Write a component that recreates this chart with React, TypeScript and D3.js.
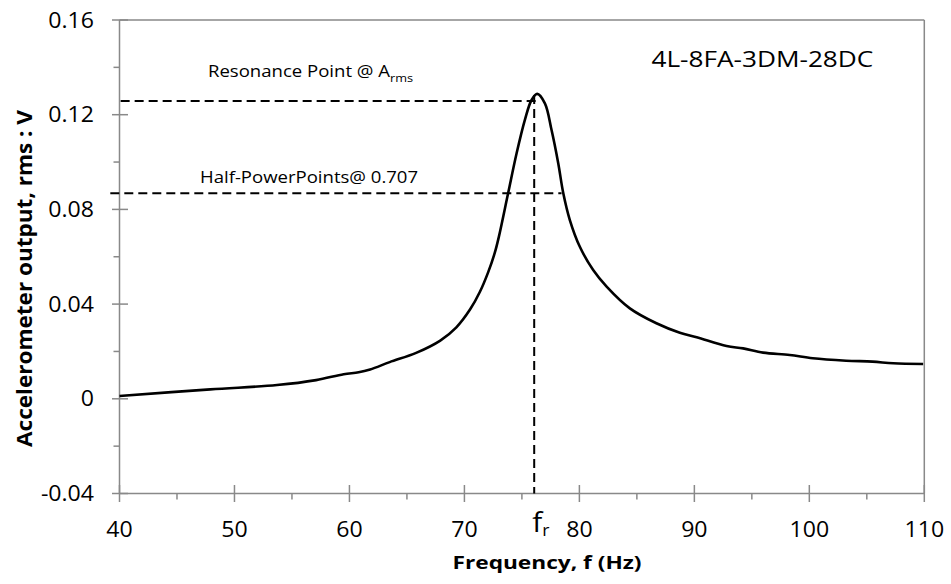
import React from "react";
import * as d3 from "d3";

// ---- data ----
const freq = [40, 47.9, 53.7, 57.1, 59.5, 60.8, 61.8, 63.5, 65.8, 67.9, 69.3, 70.5, 71.35, 72.07, 72.65, 73.0, 73.8, 74.54, 75.26, 75.84, 76.33, 77.0, 77.58, 78.16, 78.6, 79.17, 80.04, 81.2, 82.37, 84.39, 86.7, 88.74, 90.2, 92.8, 94.24, 95.98, 98.3, 100.3, 103.2, 105.5, 107.3, 109.9];
const amp = [0.0012, 0.004, 0.0058, 0.0079, 0.0104, 0.0112, 0.0124, 0.0155, 0.0194, 0.0246, 0.0302, 0.0378, 0.0452, 0.0535, 0.0618, 0.0685, 0.0868, 0.1037, 0.1178, 0.1262, 0.1288, 0.1248, 0.1135, 0.0995, 0.0868, 0.0755, 0.0642, 0.0544, 0.0474, 0.0382, 0.0319, 0.0279, 0.026, 0.0223, 0.0213, 0.0195, 0.0185, 0.0171, 0.0161, 0.0157, 0.015, 0.0147];

const xMajorTicks = [40, 50, 60, 70, 80, 90, 100, 110];
const xMinorTicks = [45, 55, 65, 75, 85, 95, 105];
const yMajorTicks = [-0.04, 0, 0.04, 0.08, 0.12, 0.16];
const yMinorTicks = [-0.02, 0.02, 0.06, 0.1, 0.14];
const yTickLabels = ["-0.04", "0", "0.04", "0.08", "0.12", "0.16"];

const resonanceFreq = 76.07;
const resonanceAmp = 0.1258;
const halfPowerAmp = 0.0868;
const halfPowerLineEnd = 78.45;
const resonanceLineStart = 40.1;
const halfPowerLineStart = 39.2;

const seriesLabel = "4L-8FA-3DM-28DC";
const xTitle = "Frequency, f  (Hz)";
const yTitle = "Accelerometer output, rms : V";

const FONT = "'Open Sans', sans-serif";
const AXIS = "#898989";
const SX = 1.1;

function T(props: any) {
  const { x, y, anchor = "start", size, weight = "normal", sx = SX, children } = props;
  return (
    <text
      transform={`translate(${x},${y}) scale(${sx},1)`}
      textAnchor={anchor}
      fontSize={size}
      fontWeight={weight}
      fontFamily={FONT}
      fill="#000"
    >
      {children}
    </text>
  );
}

export default function App() {
  const x = d3.scaleLinear().domain([40, 110]).range([119.5, 924.3]);
  const y = d3.scaleLinear().domain([-0.04, 0.16]).range([493.5, 20]);
  const pts = freq.map((f, i) => [f, amp[i]] as [number, number]);
  const line = d3
    .line<[number, number]>()
    .x((d) => x(d[0]))
    .y((d) => y(d[1]))
    .curve(d3.curveCatmullRom.alpha(0.5));

  const x0 = x(40);
  const x1 = x(110);
  const y0 = y(-0.04);
  const y1 = y(0.16);

  return (
    <svg
      width={951}
      height={584}
      style={{ position: "absolute", left: 0, top: 0, background: "#fff" }}
    >
      <rect x={0} y={0} width={951} height={584} fill="#fff" />
      {/* plot frame */}
      <line x1={x0} y1={y1} x2={x1} y2={y1} stroke={AXIS} strokeWidth={1.5} />
      <line x1={x1} y1={y1} x2={x1} y2={y0} stroke={AXIS} strokeWidth={1.5} />
      <line x1={x0} y1={y1} x2={x0} y2={y0} stroke={AXIS} strokeWidth={1.5} />
      <line x1={x0} y1={y0} x2={x1} y2={y0} stroke={AXIS} strokeWidth={1.5} />

      {/* y ticks */}
      {yMajorTicks.map((v) => (
        <line key={"ym" + v} x1={x0 - 7.5} x2={x0 + 8.5} y1={y(v)} y2={y(v)} stroke={AXIS} strokeWidth={1.5} />
      ))}
      {yMinorTicks.map((v) => (
        <line key={"yn" + v} x1={x0 - 6} x2={x0} y1={y(v)} y2={y(v)} stroke={AXIS} strokeWidth={1.5} />
      ))}
      {/* x ticks */}
      {xMajorTicks.map((v) => (
        <line key={"xm" + v} x1={x(v)} x2={x(v)} y1={y0 - 8.5} y2={y0 + 8.5} stroke={AXIS} strokeWidth={1.5} />
      ))}
      {xMinorTicks.map((v) => (
        <line key={"xn" + v} x1={x(v)} x2={x(v)} y1={y0} y2={y0 + 6} stroke={AXIS} strokeWidth={1.5} />
      ))}

      {/* tick labels */}
      {yMajorTicks.map((v, i) => (
        <T key={"yl" + v} x={94} y={y(v) + 7.5} anchor="end" size={21}>
          {yTickLabels[i]}
        </T>
      ))}
      {xMajorTicks.map((v) => (
        <T key={"xl" + v} x={x(v)} y={536.5} anchor="middle" size={21}>
          {String(v)}
        </T>
      ))}

      {/* dashed guides */}
      <line x1={x(resonanceLineStart)} x2={x(resonanceFreq + 0.2)} y1={y(resonanceAmp)} y2={y(resonanceAmp)} stroke="#000" strokeWidth={2} strokeDasharray="9,5" />
      <line x1={x(halfPowerLineStart)} x2={x(halfPowerLineEnd)} y1={y(halfPowerAmp)} y2={y(halfPowerAmp)} stroke="#000" strokeWidth={2} strokeDasharray="9,5" />
      <line x1={x(resonanceFreq)} x2={x(resonanceFreq)} y1={y(resonanceAmp) - 6} y2={y0} stroke="#000" strokeWidth={2} strokeDasharray="9,5" />

      {/* curve */}
      <path d={line(pts) || ""} fill="none" stroke="#000" strokeWidth={2.6} strokeLinejoin="round" />

      {/* annotations */}
      <text transform={`translate(208,77) scale(1.16,1)`} fontSize={16} fontFamily={FONT}>
        Resonance Point @ A
        <tspan fontSize={11} dy={5}>rms</tspan>
      </text>
      <T x={200} y={183.3} size={16} sx={1.16}>Half-PowerPoints@ 0.707</T>
      <T x={651.5} y={66.7} size={22} sx={1.19}>{seriesLabel}</T>

      {/* f_r label */}
      <text transform={`translate(${x(resonanceFreq) - 2},532) scale(${SX},1)`} fontSize={27} fontFamily={FONT}>
        f<tspan fontSize={16} dy={4}>r</tspan>
      </text>

      {/* axis titles */}
      <text x={547} y={569} textAnchor="middle" fontSize={18} fontWeight="bold" fontFamily={FONT} textLength={189} lengthAdjust="spacingAndGlyphs">
        {xTitle}
      </text>
      <text transform="translate(32,278.5) rotate(-90)" textAnchor="middle" fontSize={22} fontWeight="bold" fontFamily={FONT} textLength={337} lengthAdjust="spacingAndGlyphs">
        {yTitle}
      </text>
    </svg>
  );
}
